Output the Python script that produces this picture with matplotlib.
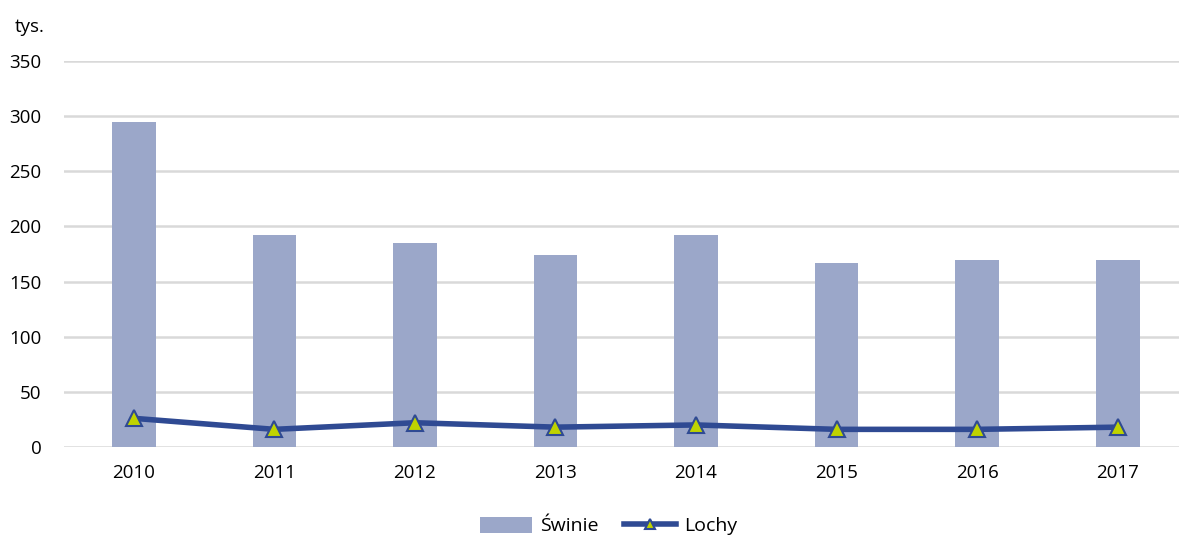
import matplotlib
matplotlib.use("Agg")
import matplotlib.pyplot as plt
import numpy as np

years = ["2010", "2011", "2012", "2013", "2014", "2015", "2016", "2017"]
swinie = [295, 192, 185, 174, 192, 167, 170, 170]
lochy = [26, 16, 22, 18, 20, 16, 16, 18]
yticks = [0, 50, 100, 150, 200, 250, 300, 350]

plt.rcParams['font.family'] = ['Open Sans', 'DejaVu Sans']

W, H = 1179, 538
fig = plt.figure(figsize=(W/100, H/100), dpi=100)
left, right = 63.5, 1188.0
bottom, top = 447.0, 61.0
ax = fig.add_axes([left/W, 1 - bottom/H, (right-left)/W, (bottom-top)/H])

x = np.arange(len(years))
bars = ax.bar(x, swinie, width=0.31, color="#9BA7C9", zorder=2, label="Świnie")
line, = ax.plot(x, lochy, color="#2F4A93", lw=4, marker="^", markersize=12,
                markerfacecolor="#BFD300", markeredgecolor="#2F4A93", markeredgewidth=1.5,
                zorder=3, label="Lochy")

ax.set_xlim(-0.5, len(years) - 0.5)
ax.set_ylim(0, 350)
ax.set_yticks(yticks)
ax.set_yticklabels([str(v) for v in yticks], fontsize=13.5)
ax.set_xticks(x)
ax.set_xticklabels(years, fontsize=13.5)
ax.yaxis.grid(True, color="#D9D9D9", lw=1.8, zorder=0)
ax.set_axisbelow(True)
for s in ax.spines.values():
    s.set_visible(False)
ax.tick_params(axis='both', length=0)
ax.tick_params(axis='y', pad=16)
ax.tick_params(axis='x', pad=12)

fig.text(15/W, 1 - 27/H, "tys.", fontsize=13.5, va="center", ha="left")

leg = fig.legend([bars, line], ["Świnie", "Lochy"], loc="center",
                 bbox_to_anchor=(0.516, 1 - 526/H), ncol=2, frameon=False,
                 fontsize=14, handlelength=2.7, handleheight=0.9,
                 columnspacing=1.3, handletextpad=0.4)
for h in leg.legend_handles:
    try:
        h.set_markersize(7)
    except Exception:
        pass

fig.savefig("out.png", dpi=100)
